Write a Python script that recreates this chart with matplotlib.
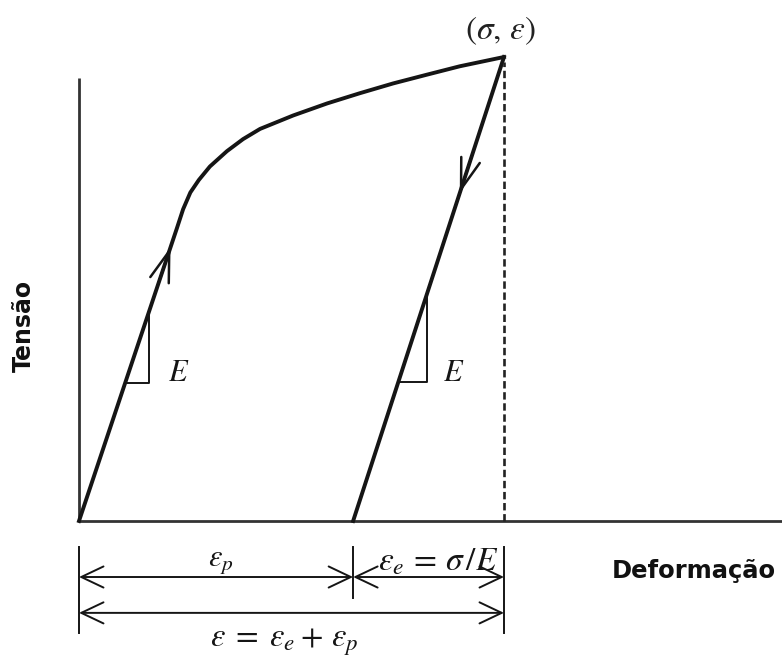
import numpy as np
import matplotlib
matplotlib.use('Agg')
import matplotlib.pyplot as plt

plt.rcParams['mathtext.fontset'] = 'stix'

# curva de carga (deformação normalizada, tensão normalizada)
eps_load = [0.0, 0.230, 0.245, 0.262, 0.282, 0.308, 0.348, 0.386, 0.426,
            0.504, 0.584, 0.661, 0.739, 0.819, 0.896, 1.0]
sig_load = [0.0, 0.630, 0.672, 0.708, 0.735, 0.764, 0.797, 0.823, 0.845,
            0.874, 0.900, 0.922, 0.943, 0.962, 0.980, 1.0]

# descarga elástica até a deformação plástica residual
eps_p = 0.645
eps_total = 1.0
eps_unload = [eps_total, eps_p]
sig_unload = [1.0, 0.0]

# triângulos do módulo E
tri_left_eps = [0.110, 0.165, 0.165]
tri_left_sig = [0.297, 0.297, 0.450]
tri_right_eps = [0.7515, 0.820, 0.820]
tri_right_sig = [0.300, 0.300, 0.493]

INK = '#151515'

fig = plt.figure(figsize=(7.82, 6.59), dpi=100)
ax = fig.add_axes([0, 0, 1, 1])
ax.set_xlim(-0.18588, 1.65412)
ax.set_ylim(-0.29741, 1.12284)
ax.axis('off')

# eixos
ax.plot([0, 0], [0, 0.955], color='#333333', lw=2.0, solid_capstyle='butt')
ax.plot([0, 1.654], [0, 0], color='#333333', lw=2.0, solid_capstyle='butt')

# curvas
ax.plot(eps_load, sig_load, color=INK, lw=2.8, solid_joinstyle='round')
ax.plot(eps_unload, sig_unload, color=INK, lw=2.8, solid_joinstyle='miter')
ax.plot([eps_total, eps_total], [0, 0.99], color='#222222', lw=1.9,
        linestyle=(0, (2.8, 1.4)))

# setas de sentido sobre as curvas
def seta(x0, y0, x1, y1):
    ax.annotate('', xy=(x1, y1), xytext=(x0, y0),
                arrowprops=dict(arrowstyle='->,head_length=1.1,head_width=0.35',
                                mutation_scale=20, lw=1.8, color=INK,
                                shrinkA=0, shrinkB=0))

s_up = 0.59
seta(np.interp(s_up - 0.08, sig_load, eps_load), s_up - 0.08,
     np.interp(s_up, sig_load, eps_load), s_up)
s_dn = 0.707
e_dn = eps_p + s_dn * (eps_total - eps_p)
seta(eps_p + (s_dn + 0.08) * (eps_total - eps_p), s_dn + 0.08, e_dn, s_dn)

# triângulos
ax.plot(tri_left_eps, tri_left_sig, color=INK, lw=1.4)
ax.plot(tri_right_eps, tri_right_sig, color=INK, lw=1.4)
ax.text(0.234, 0.321, r'$E$', fontsize=22, ha='center', va='center', color=INK)
ax.text(0.882, 0.319, r'$E$', fontsize=22, ha='center', va='center', color=INK)

ax.text(0.991, 1.058, r'$(\sigma,\,\varepsilon)$', fontsize=24,
        ha='center', va='center', color='#222222')

# cotas das deformações
y1, y2 = -0.1207, -0.198
for x, bot in [(0, -0.241), (eps_p, -0.166), (eps_total, -0.241)]:
    ax.plot([x, x], [-0.056, bot], color=INK, lw=1.4)

def cota(xa, xb, y):
    ax.annotate('', xy=(xb, y), xytext=(xa, y),
                arrowprops=dict(arrowstyle='<->,head_length=0.8,head_width=0.38',
                                mutation_scale=20, lw=1.4, color=INK,
                                shrinkA=0, shrinkB=0))

cota(0, eps_p, y1)
cota(eps_p, eps_total, y1)
cota(0, eps_total, y2)

ax.text(0.334, -0.088, r'$\varepsilon_p$', fontsize=22, ha='center', va='center', color=INK)
ax.text(0.704, -0.086, r'$\varepsilon_e\,{=}\,\sigma\,/E$', fontsize=24,
        ha='left', va='center', color=INK)
ax.text(0.482, -0.259, r'$\varepsilon\;=\;\varepsilon_e+\,\varepsilon_p$', fontsize=23.5,
        ha='center', va='center', color=INK)

# rótulos dos eixos
ax.text(-0.129, 0.420, 'Tensão', rotation=90, fontsize=17, fontweight='bold',
        ha='center', va='center', color='#111111')
ax.text(1.254, -0.123, 'Deformação', fontsize=17.5, fontweight='bold',
        ha='left', va='baseline', color='#111111')

fig.savefig('out.png', dpi=100)
